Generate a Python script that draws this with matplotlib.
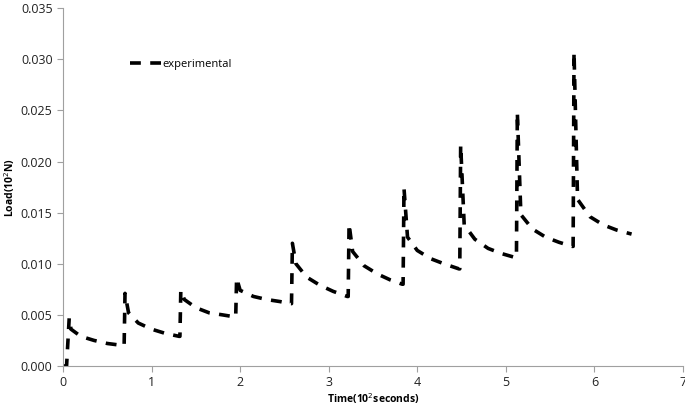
import matplotlib.pyplot as plt
from matplotlib.ticker import FormatStrFormatter

# time (10^2 s) and load (10^2 N)
time = [0.00, 0.04, 0.07, 0.09, 0.20, 0.35, 0.50, 0.68,
        0.69, 0.70, 0.74, 0.85, 1.00, 1.15, 1.31,
        1.32, 1.33, 1.37, 1.50, 1.65, 1.80, 1.94,
        1.95, 1.96, 2.00, 2.15, 2.30, 2.45, 2.57,
        2.58, 2.59, 2.63, 2.75, 2.90, 3.05, 3.21,
        3.22, 3.23, 3.27, 3.40, 3.55, 3.70, 3.83,
        3.84, 3.85, 3.89, 4.00, 4.15, 4.30, 4.47,
        4.48, 4.49, 4.53, 4.65, 4.80, 4.95, 5.11,
        5.12, 5.13, 5.17, 5.30, 5.45, 5.60, 5.75,
        5.76, 5.77, 5.81, 5.95, 6.10, 6.25, 6.42]
load = [0.0000, 0.0000, 0.0047, 0.0036, 0.0029, 0.0025, 0.0022, 0.0020,
        0.0020, 0.0071, 0.0052, 0.0042, 0.0036, 0.0032, 0.0029,
        0.0029, 0.0074, 0.0065, 0.0057, 0.0052, 0.0050, 0.0048,
        0.0048, 0.0086, 0.0074, 0.0068, 0.0065, 0.0063, 0.0061,
        0.0061, 0.0120, 0.0100, 0.0087, 0.0079, 0.0073, 0.0068,
        0.0068, 0.0139, 0.0112, 0.0098, 0.0090, 0.0084, 0.0080,
        0.0080, 0.0174, 0.0126, 0.0113, 0.0105, 0.0100, 0.0095,
        0.0095, 0.0216, 0.0138, 0.0124, 0.0115, 0.0110, 0.0106,
        0.0106, 0.0248, 0.0148, 0.0134, 0.0126, 0.0121, 0.0117,
        0.0117, 0.0307, 0.0163, 0.0146, 0.0138, 0.0133, 0.0129]

xticks = [0, 1, 2, 3, 4, 5, 6, 7]
yticks = [0.000, 0.005, 0.010, 0.015, 0.020, 0.025, 0.030, 0.035]

plt.rcParams['font.family'] = ['Open Sans', 'DejaVu Sans']

fig = plt.figure(figsize=(6.85, 4.08), dpi=100)
ax = fig.add_axes([0.092, 0.103, 0.905, 0.877])

ax.plot(time, load, color='black', lw=2.6, dashes=(3, 2.6), label='experimental')

ax.set_xlim(0, 7)
ax.set_ylim(0, 0.035)
ax.set_xticks(xticks)
ax.set_yticks(yticks)
ax.yaxis.set_major_formatter(FormatStrFormatter('%.3f'))

for s in ['top', 'right']:
    ax.spines[s].set_visible(False)
for s in ['left', 'bottom']:
    ax.spines[s].set_color('#a0a0a0')
ax.tick_params(axis='both', colors='#a0a0a0', labelcolor='#222222',
               labelsize=9, length=4, direction='out')

ax.set_xlabel('Time(10$^2$seconds)', fontsize=7.5, fontweight='bold')
ax.set_ylabel('Load(10$^2$N)', fontsize=7.5, fontweight='bold')
ax.xaxis.set_label_coords(0.5, -0.07)
ax.yaxis.set_label_coords(-0.075, 0.5)

ax.legend(loc='upper left', bbox_to_anchor=(0.092, 0.885), frameon=False,
          fontsize=8, handlelength=2.8, handletextpad=0.1)

fig.savefig('out.png', dpi=100)
